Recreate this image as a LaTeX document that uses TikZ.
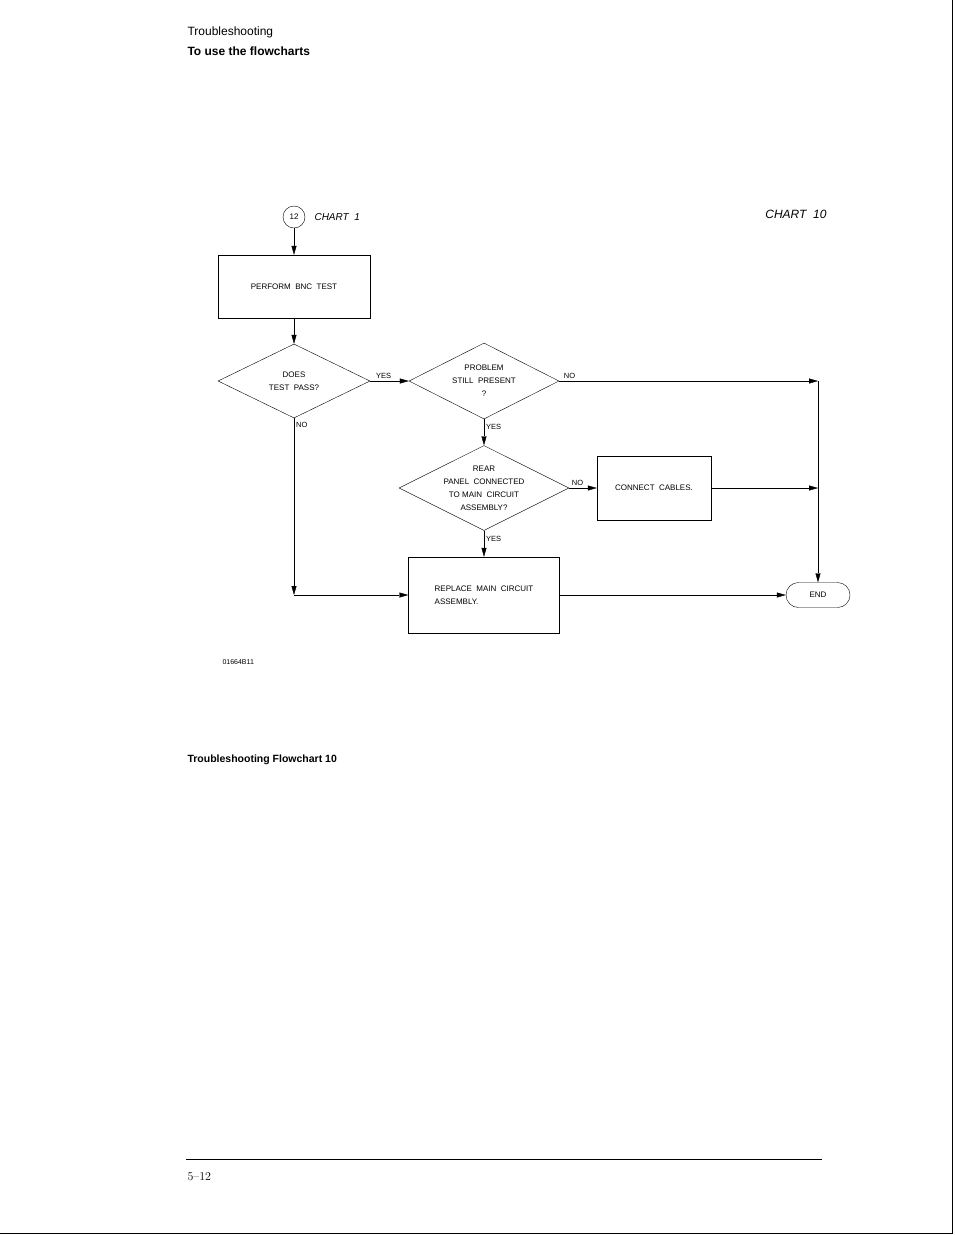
\documentclass[tikz,border=0pt]{standalone}
\usepackage{fontspec}
\setsansfont{Liberation Sans}
\usetikzlibrary{
  shapes,
  shapes.geometric,
  arrows.meta,
  calc,
}
\tikzset{
  chart/.style={font=\sffamily\fontsize{8}{13}\selectfont, align=center},
  procbox/.style={chart, draw, thin, inner sep=0pt},
  decide/.style={chart, draw, thin, diamond, aspect=2, inner sep=0pt},
  flow/.style={thin, -{Triangle[length=9pt,width=5pt]}},
  lbl/.style={font=\sffamily\fontsize{7.5}{8}\selectfont, inner sep=2pt},
}
\begin{document}
\begin{tikzpicture}[x=1pt,y=-1pt]
  \useasboundingbox (0,0) rectangle (954,1235);
  \draw (952,0) -- (952,1233) -- (0,1233);

  % page header
  \node[anchor=west,font=\sffamily\fontsize{12}{14}\selectfont] (head) at (184,32) {Troubleshooting};
  \node[anchor=west,font=\sffamily\bfseries\fontsize{12}{14}\selectfont] (sub) at (184,51) {To use the flowcharts};

  % chart
  \node[chart, draw, circle, minimum size=22pt, inner sep=0pt] (c12) at (294,217) {12};
  \node[chart, anchor=west, font=\sffamily\itshape\fontsize{10}{10}\selectfont] (from) at (311,217) {CHART\ \ 1};
  \node[chart, anchor=east, font=\sffamily\itshape\fontsize{12}{12}\selectfont] (title) at (830,214) {CHART\ \ 10};

  \node[procbox, minimum width=152pt, minimum height=63pt] (bnc) at (294,286.5) {PERFORM\ \ BNC\ \ TEST};
  \node[decide, minimum width=152pt, minimum height=74pt] (pass) at (294,381) {DOES\\TEST\ \ PASS?};
  \node[decide, minimum width=150pt, minimum height=76pt] (still) at (484,381) {PROBLEM\\STILL\ \ PRESENT\\?};
  \node[decide, minimum width=151pt, minimum height=76pt] (rear) at (484,488) {REAR\\PANEL\ \ CONNECTED\\TO MAIN\ \ CIRCUIT\\ASSEMBLY?};
  \node[procbox, minimum width=114pt, minimum height=64pt] (cables) at (654,488) {CONNECT\ \ CABLES.};
  \node[procbox, minimum width=151pt, minimum height=76pt, align=left] (main) at (484,595) {REPLACE\ \ MAIN\ \ CIRCUIT\\ASSEMBLY.\hspace{60pt}};
  \node[chart, draw, rounded rectangle, minimum width=64pt, minimum height=25pt, inner sep=0pt] (done) at (818,595) {END};

  \coordinate (jA) at (818,381);
  \coordinate (jB) at (818,488);
  \coordinate (jC) at (294,595);

  \draw[flow] (c12) -- (bnc);
  \draw[flow] (bnc) -- (pass);
  \draw[flow] (pass) -- node[lbl, above, pos=0.35] {YES} (still);
  \draw[flow] (still) -- node[lbl, above, pos=0.04] {NO} (jA);
  \draw[flow] (still) -- node[lbl, right, pos=0.3] {YES} (rear);
  \draw[flow] (rear) -- node[lbl, above, pos=0.3] {NO} (cables);
  \draw[flow] (rear) -- node[lbl, right, pos=0.3] {YES} (main);
  \draw[flow] (cables) -- (jB);
  \draw[flow] (jA) -- (done);
  \draw[flow] (pass) -- node[lbl, right, pos=0.04] {NO} (jC);
  \draw[flow] (jC) -- (main);
  \draw[flow] (main) -- (done);

  \node[anchor=west, font=\sffamily\fontsize{7}{7}\selectfont] (code) at (219,662) {01664B11};

  % caption and footer
  \node[anchor=west,font=\sffamily\bfseries\fontsize{10.5}{11}\selectfont] (cap) at (184,760) {Troubleshooting Flowchart 10};
  \draw (186,1159) -- (822,1159);
  \node[anchor=west,font=\rmfamily\fontsize{12}{13}\selectfont] (page) at (184,1177) {5--12};
\end{tikzpicture}
\end{document}
